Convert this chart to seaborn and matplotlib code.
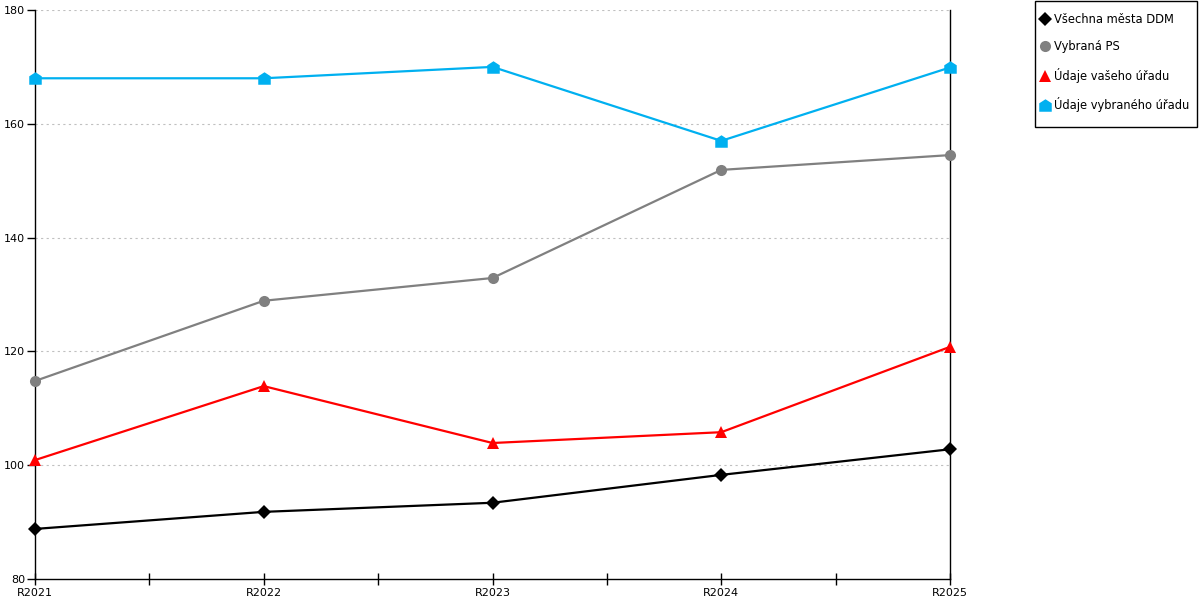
import numpy as np
import pandas as pd
import matplotlib
matplotlib.use("Agg")
import matplotlib.pyplot as plt
from matplotlib.lines import Line2D
from matplotlib.patches import Rectangle
import seaborn as sns

# Data
roky = ["R2021", "R2022", "R2023", "R2024", "R2025"]
vsechna_mesta = [88.8, 91.8, 93.4, 98.3, 102.8]
vybrana_ps = [114.8, 128.9, 132.9, 151.9, 154.5]
vas_urad = [100.9, 113.9, 103.9, 105.8, 120.8]
vybrany_urad = [168.0, 168.0, 170.0, 157.0, 169.9]

nazvy = ["Všechna města DDM", "Vybraná PS", "Údaje vašeho úřadu", "Údaje vybraného úřadu"]
barvy = ["#000000", "#808080", "#ff0000", "#00b0f0"]
house = [(-1, -1), (1, -1), (1, 0.35), (0, 1), (-1, 0.35), (-1, -1)]
znacky = ["D", "o", "^", house]
velikosti = [7, 8, 8, 9]

df = pd.DataFrame({
    "rok": roky * 4,
    "hodnota": vsechna_mesta + vybrana_ps + vas_urad + vybrany_urad,
    "rada": sum([[n] * len(roky) for n in nazvy], []),
})
df["x"] = df["rok"].map({r: i for i, r in enumerate(roky)})

sns.set_style("white")
plt.rcParams["font.family"] = ["DejaVu Sans"]
plt.rcParams["text.color"] = "black"
plt.rcParams["xtick.color"] = "black"
plt.rcParams["ytick.color"] = "black"

fig = plt.figure(figsize=(12, 6), dpi=100)
ax = fig.add_axes([35 / 1200, 1 - 579 / 600, 915 / 1200, 569 / 600])

for nazev, barva, zn, vel in zip(nazvy, barvy, znacky, velikosti):
    sub = df[df["rada"] == nazev]
    sns.lineplot(data=sub, x="x", y="hodnota", ax=ax, color=barva, marker=zn,
                 markersize=vel, markeredgewidth=0, linewidth=1.6, legend=False,
                 clip_on=False, zorder=3)

ax.set_xlim(0, 4)
ax.set_ylim(80, 180)
ax.set_xticks(range(len(roky)))
ax.set_xticklabels(roky)
ax.set_xticks(np.arange(0.5, 4, 1), minor=True)
ax.set_yticks(range(80, 181, 20))
ax.set_xlabel("")
ax.set_ylabel("")
ax.tick_params(axis="x", which="both", bottom=True, direction="inout", length=9, width=1,
               color="black", labelcolor="black", labelsize=8, pad=2)
ax.tick_params(axis="y", left=True, direction="out", length=6, width=1, color="black",
               labelcolor="black", labelsize=8, pad=1)
for y in range(100, 181, 20):
    ax.axhline(y, color="#c0c0c0", linestyle=(0, (2, 3)), linewidth=0.8, zorder=1)

for s in ["left", "bottom", "right"]:
    ax.spines[s].set_visible(True)
    ax.spines[s].set_color("black")
    ax.spines[s].set_linewidth(1)
ax.spines["top"].set_visible(False)

# legend: markers only, with a plain black frame around it
handles = [Line2D([], [], linestyle="none", marker=zn, color=barva, markersize=vel,
                  markeredgewidth=0)
           for barva, zn, vel in zip(barvy, znacky, velikosti)]
leg = fig.legend(handles, nazvy, loc="upper left", bbox_to_anchor=(1042 / 1200, 1 - 13 / 600),
                 bbox_transform=fig.transFigure, fontsize=8.3, frameon=False,
                 labelspacing=1.25, handlelength=0.6, handletextpad=0.45,
                 borderpad=0, borderaxespad=0)
for t in leg.get_texts():
    t.set_color("black")
fig.patches.append(Rectangle((1034.5 / 1200, 1 - 127 / 600), 162 / 1200, 126 / 600,
                             transform=fig.transFigure, fill=False, edgecolor="black",
                             linewidth=1))

fig.savefig("out.png", dpi=100)
